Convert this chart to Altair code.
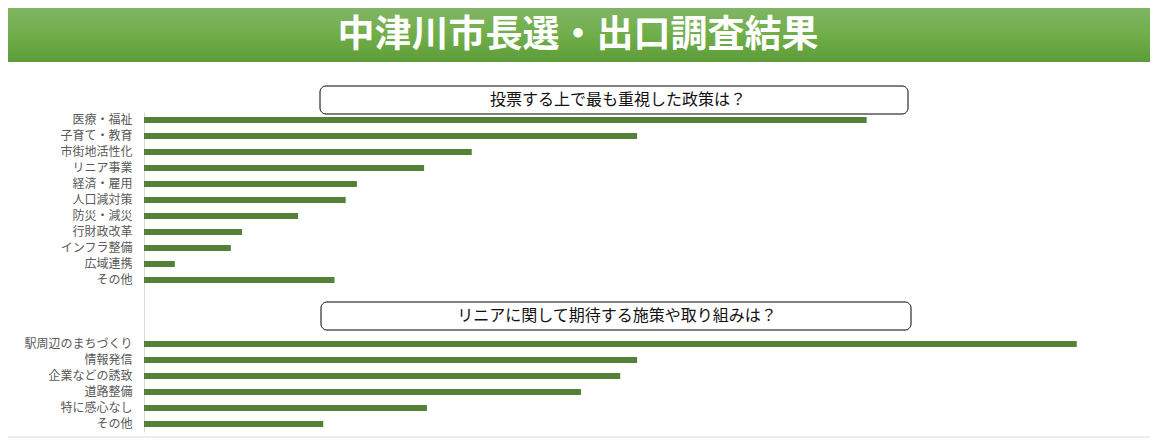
import altair as alt
import pandas as pd

# ---- data ----
title_text = "中津川市長選・出口調査結果"
q1_title = "投票する上で最も重視した政策は？"
q2_title = "リニアに関して期待する施策や取り組みは？"

q1_labels = ["医療・福祉", "子育て・教育", "市街地活性化", "リニア事業", "経済・雇用",
             "人口減対策", "防災・減災", "行財政改革", "インフラ整備", "広域連携", "その他"]
q1_values = [25.8, 17.6, 11.7, 10.0, 7.6, 7.2, 5.5, 3.5, 3.1, 1.1, 6.8]

q2_labels = ["駅周辺のまちづくり", "情報発信", "企業などの誘致", "道路整備", "特に感心なし", "その他"]
q2_values = [33.3, 17.6, 17.0, 15.6, 10.1, 6.4]

FONT = "Noto Sans CJK JP"
BAR = "#548235"

q1_keys = [f"{l}#1" for l in q1_labels]
q2_keys = [f"{l}#2" for l in q2_labels]
spacers = ["#s1", "#s2", "#s3"]
domain = q1_keys + spacers + q2_keys

df = pd.DataFrame({
    "key": q1_keys + q2_keys,
    "value": q1_values + q2_values,
})

W, H = 1000, 320
PL, PT, PR, PB = 136, 104, 6, 8

one = pd.DataFrame({"a": [0]})

header = alt.Chart(one).mark_rect(
    color=alt.Gradient(
        gradient="linear", x1=0, y1=0, x2=0, y2=1,
        stops=[alt.GradientStop(color="#80b564", offset=0),
               alt.GradientStop(color="#70ae49", offset=0.5),
               alt.GradientStop(color="#5c9c38", offset=1)],
    )
).encode(x=alt.value(-PL), x2=alt.value(W + PR), y=alt.value(-PT), y2=alt.value(-50))

header_text = alt.Chart(one).mark_text(
    text=title_text, font=FONT, fontSize=37, fontWeight="bold", color="white",
    align="center", baseline="middle"
).encode(x=alt.value(434), y=alt.value(-76))

box1 = alt.Chart(one).mark_rect(
    fill="white", stroke="black", strokeWidth=1, cornerRadius=6
).encode(x=alt.value(176), x2=alt.value(764), y=alt.value(-26), y2=alt.value(2))
box1_text = alt.Chart(one).mark_text(
    text=q1_title, font=FONT, fontSize=16, color="#111111", align="center", baseline="middle"
).encode(x=alt.value(474), y=alt.value(-12))

box2 = alt.Chart(one).mark_rect(
    fill="white", stroke="black", strokeWidth=1, cornerRadius=6
).encode(x=alt.value(177), x2=alt.value(767), y=alt.value(190), y2=alt.value(218))
box2_text = alt.Chart(one).mark_text(
    text=q2_title, font=FONT, fontSize=16, color="#111111", align="center", baseline="middle"
).encode(x=alt.value(473), y=alt.value(204))

bars = alt.Chart(df).mark_bar(color=BAR).encode(
    x=alt.X("value:Q", scale=alt.Scale(domain=[0, 35.7], nice=False, zero=True), axis=None),
    y=alt.Y("key:N", sort=domain,
            scale=alt.Scale(domain=domain, paddingInner=0.625, paddingOuter=0.3125),
            axis=alt.Axis(title=None, ticks=False, grid=False, domainColor="#d9d9d9",
                          labelPadding=12, labelColor="#595959", labelFontSize=12,
                          labelFont=FONT, labelExpr="split(datum.label, '#')[0]")),
)

bottom_rule = alt.Chart(one).mark_rule(color="#d9d9d9", strokeWidth=1).encode(
    x=alt.value(-PL), x2=alt.value(W + PR), y=alt.value(325)
)

chart = alt.layer(header, header_text, bars, box1, box1_text, box2, box2_text, bottom_rule).properties(
    width=W, height=H,
    padding={"left": PL, "top": PT, "right": PR, "bottom": PB},
    autosize=alt.AutoSizeParams(type="none"),
    background="white",
).configure_view(stroke="transparent", strokeWidth=0)

chart.save("out.html", embed_options={"renderer": "svg", "actions": False})
